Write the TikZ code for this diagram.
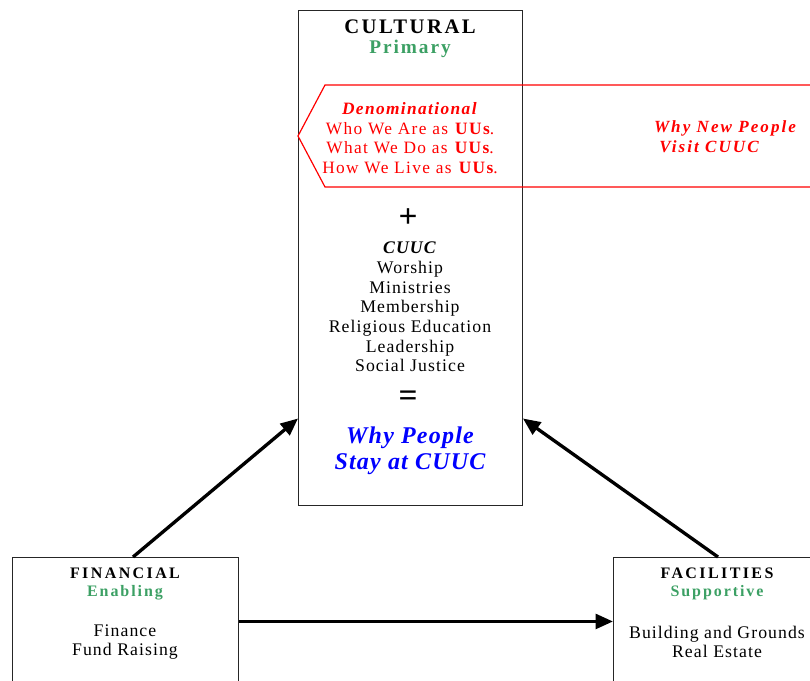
\documentclass[tikz,border=0pt]{standalone}
\usepackage{fontspec}
\setmainfont{Liberation Serif}[LetterSpace=5]
\usetikzlibrary{positioning,arrows.meta}
\definecolor{leafgreen}{RGB}{60,160,100}

\begin{document}
\begin{tikzpicture}[x=0.75pt, y=-0.75pt,
    every node/.style={align=center, inner sep=0pt},
    panel/.style={rectangle, draw=black!85, line width=0.7pt, anchor=north west},
    bighead/.style={font=\fontsize{15.5}{17}\selectfont\bfseries\addfontfeature{LetterSpace=12}},
    head/.style={font=\fontsize{12}{14}\selectfont\bfseries\addfontfeature{LetterSpace=15}},
    role/.style={font=\fontsize{12}{14}\selectfont\bfseries\addfontfeature{LetterSpace=12}, text=leafgreen},
    body/.style={font=\fontsize{13.3}{14.75}\selectfont\addfontfeature{LetterSpace=6}},
    redtext/.style={font=\fontsize{13}{14.8}\selectfont\addfontfeature{LetterSpace=8}, text=red},
    why/.style={font=\fontsize{18}{19.5}\selectfont\bfseries\itshape, text=blue},
    sign/.style={font=\fontsize{25}{25}\selectfont\bfseries},
    arrow/.style={-{Triangle[length=13pt,width=11pt]}, line width=2.5pt}
]
\useasboundingbox (0,0) rectangle (810,681);
\clip (0,0) rectangle (810,681);

% the three areas
\node[panel, minimum width=168pt, minimum height=371.25pt] (cultural) at (298,10) {};
\node[panel, minimum width=169.5pt, minimum height=96pt] (financial) at (12,557) {};
\node[panel, minimum width=172.5pt, minimum height=96pt] (facilities) at (613,557) {};

% red banner
\draw[red, line width=0.9pt] (810,85) -- (325,85) -- (298,136) -- (325,187) -- (810,187);

% cultural
\node[bighead] (cultTitle) at (410,27) {CULTURAL};
\node[role, font=\fontsize{14.5}{16}\selectfont\bfseries\addfontfeature{LetterSpace=10}] (cultRole) at (410,49) {Primary};
\node[redtext] (denom) at (410,138) {\textbf{\textit{Denominational}}\\Who We Are as \textbf{UUs}.\\What We Do as \textbf{UUs}.\\How We Live as \textbf{UUs}.};
\node[redtext, font=\fontsize{12.8}{14.8}\selectfont\bfseries\itshape\addfontfeature{LetterSpace=12}, align=left] (visit) at (725,136.5) {Why New People\\\hspace{4pt}Visit CUUC};
\node[sign] (plus) at (408,218) {+};
\node[body] (cuuc) at (410,307) {\textbf{\textit{CUUC}}\\Worship\\Ministries\\Membership\\Religious Education\\Leadership\\Social Justice};
\node[sign] (equals) at (408,399) {=};
\node[why] (stay) at (410,451) {Why People\\Stay at CUUC};

% financial
\node[head] (finTitle) at (125,573) {FINANCIAL};
\node[role] (finRole) at (125,593) {Enabling};
\node[body] (finList) at (125,642) {Finance\\Fund Raising};

% facilities
\node[head] (facTitle) at (717,573) {FACILITIES};
\node[role] (facRole) at (717,593) {Supportive};
\node[body] (facList) at (717,642) {Building and Grounds\\Real Estate};

\draw[arrow] ([xshift=90.75pt]financial.north west) -- ([yshift=-120.4pt]cultural.west);
\draw[arrow] ([xshift=78.75pt]facilities.north west) -- ([yshift=-120.4pt]cultural.east);
\draw[arrow] (financial.east) -- (facilities.west);

\end{tikzpicture}
\end{document}
